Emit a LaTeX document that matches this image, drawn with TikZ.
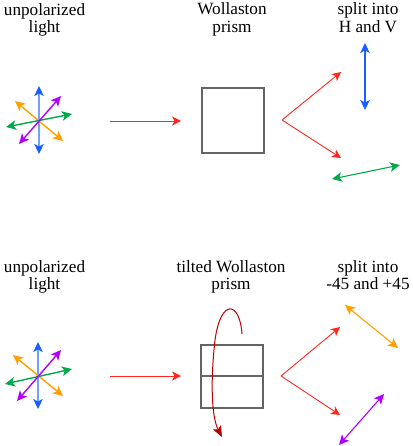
\documentclass[tikz,border=0pt]{standalone}
\usepackage{fontspec}
\setmainfont{Liberation Serif}
\usetikzlibrary{arrows.meta}
\definecolor{cRed}{RGB}{255,40,30}
\definecolor{cBlue}{RGB}{25,95,255}
\definecolor{cBlueL}{RGB}{115,160,255}
\definecolor{cGreen}{RGB}{0,170,75}
\definecolor{cOrange}{RGB}{255,160,0}
\definecolor{cPurple}{RGB}{175,0,255}
\definecolor{cGray}{RGB}{100,100,100}
\definecolor{cDark}{RGB}{185,0,0}
\tikzset{
  lbl/.style={anchor=base, inner sep=0pt, font=\fontsize{17.2}{18}\selectfont},
  tipP/.tip={Stealth[length=10pt,width=9.5pt,inset=2.5pt]},
  tipB/.tip={Stealth[length=9pt,width=9pt,inset=2.5pt]},
  pol/.style={line width=1.4pt, tipP-tipP},
  polB/.style={line width=1.4pt, cBlueL, {tipP[color=cBlue]}-{tipP[color=cBlue]}},
  beam/.style={cRed, line width=0.9pt, -tipB},
  prism/.style={draw=cGray, line width=2pt, inner sep=0pt},
  rot/.style={cDark, line width=1pt, -{Stealth[length=11pt,width=9pt,inset=2.5pt]}}
}
\begin{document}
\begin{tikzpicture}[x=1pt,y=-1pt]
\useasboundingbox (0,0) rectangle (412,446);
% ---------- labels ----------
\node[lbl] (t1a) at (44.5,16) {unpolarized};
\node[lbl] (t1b) at (44.5,33) {light};
\node[lbl] (t2a) at (232,15) {Wollaston};
\node[lbl] (t2b) at (232,32.5) {prism};
\node[lbl] (t3a) at (368,15) {split into};
\node[lbl] (t3b) at (368,32.5) {H and V};
\node[lbl] (b1a) at (44.5,272) {unpolarized};
\node[lbl] (b1b) at (44.5,289) {light};
\node[lbl] (b2a) at (231,272) {tilted Wollaston};
\node[lbl] (b2b) at (231,289) {prism};
\node[lbl] (b3a) at (368,272) {split into};
\node[lbl] (b3b) at (368,289) {-45 and +45};
% ---------- top star ----------
\coordinate (sa1) at (39,86);  \coordinate (sa2) at (39,154);
\coordinate (sb1) at (15,101); \coordinate (sb2) at (63,141);
\coordinate (sc1) at (6,127);  \coordinate (sc2) at (72,114);
\coordinate (sd1) at (19,144); \coordinate (sd2) at (61,96);
\draw[polB] (sa1) -- (sa2);
\draw[pol, cOrange] (sb1) -- (sb2);
\draw[pol, cGreen] (sc1) -- (sc2);
\draw[pol, cPurple] (sd1) -- (sd2);
% beam in
\coordinate (ia1) at (110,121); \coordinate (ia2) at (181,121);
\draw[beam] (ia1) -- (ia2);
% prism
\node[prism, minimum width=62pt, minimum height=65pt] (pA) at (233,120.5) {};
% split
\coordinate (va) at (282,120);
\coordinate (ua) at (341,72);
\coordinate (da) at (341,158);
\draw[beam] (va) -- (ua);
\draw[beam] (va) -- (da);
\coordinate (h1) at (365,43); \coordinate (h2) at (365,110);
\draw[pol, cBlue, line width=1.1pt] (h1) -- (h2);
\coordinate (g1) at (332,179); \coordinate (g2) at (400,165);
\draw[pol, cGreen, line width=1.1pt] (g1) -- (g2);
% ---------- bottom star ----------
\coordinate (ta1) at (38,342);  \coordinate (ta2) at (38,409);
\coordinate (tb1) at (13,355);  \coordinate (tb2) at (63,396);
\coordinate (tc1) at (5,384);   \coordinate (tc2) at (72,369);
\coordinate (td1) at (17,401);  \coordinate (td2) at (61,350);
\draw[polB] (ta1) -- (ta2);
\draw[pol, cOrange] (tb1) -- (tb2);
\draw[pol, cGreen] (tc1) -- (tc2);
\draw[pol, cPurple] (td1) -- (td2);
% beam in
\coordinate (ib1) at (110,376); \coordinate (ib2) at (181,376);
\draw[beam] (ib1) -- (ib2);
% prism
\node[prism, minimum width=62pt, minimum height=63pt] (pB) at (232,376) {};
\draw[cGray, line width=2pt] (pB.west) -- (pB.east);
% rotation
\coordinate (r0) at (242,334);
\coordinate (r1) at (222,437);
\draw[rot] (r0) .. controls (240,302) and (221,297) .. (215,340)
  .. controls (210,385) and (212,418) .. (r1);
% split
\coordinate (vb) at (281,376);
\coordinate (ub) at (340,327);
\coordinate (db) at (340,415);
\draw[beam] (vb) -- (ub);
\draw[beam] (vb) -- (db);
\coordinate (o1) at (345,305); \coordinate (o2) at (398,348);
\draw[pol, cOrange, line width=1.1pt] (o1) -- (o2);
\coordinate (p1) at (339,445); \coordinate (p2) at (384,394);
\draw[pol, cPurple, line width=1.1pt] (p1) -- (p2);
\end{tikzpicture}
\end{document}
